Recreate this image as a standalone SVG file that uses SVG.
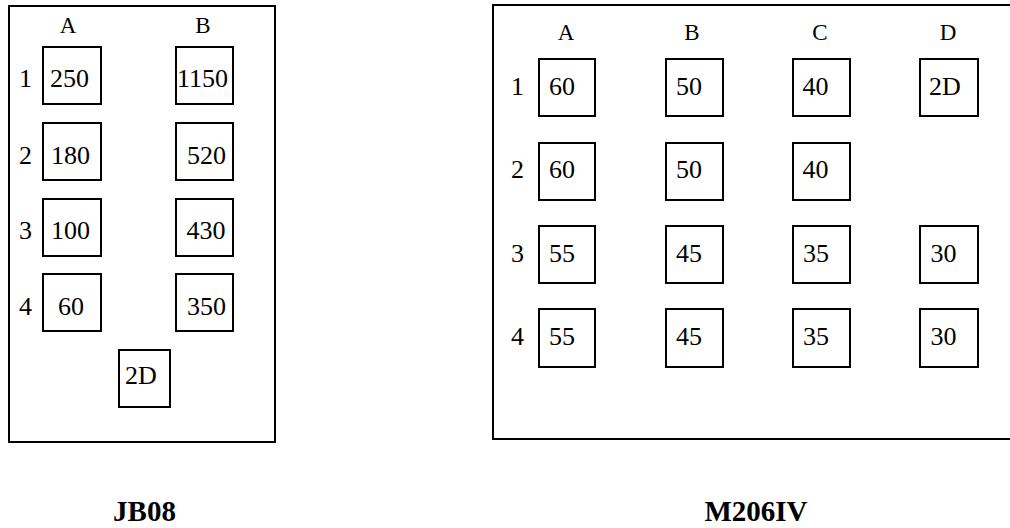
<svg xmlns="http://www.w3.org/2000/svg" width="1010" height="528" viewBox="0 0 1010 528">
<style>
.frame{fill:none;stroke:#000;stroke-width:2}
.box{fill:#fff;stroke:#000;stroke-width:2}
.t{font-family:"Liberation Serif","Times New Roman",serif;font-size:26px;fill:#000}
.h{font-family:"Liberation Serif","Times New Roman",serif;font-size:23px;fill:#000;text-anchor:middle}
.title{font-family:"Liberation Serif","Times New Roman",serif;font-size:29px;font-weight:bold;fill:#000;text-anchor:middle}
</style>
<rect width="1010" height="528" fill="#fff"/>
<g id="jb08">
<rect class="frame" x="9" y="6" width="266" height="436"/>
<text class="h" x="68" y="33">A</text>
<text class="h" x="203" y="33">B</text>
<text class="t" x="19" y="87">1</text>
<text class="t" x="19" y="164">2</text>
<text class="t" x="19" y="239">3</text>
<text class="t" x="19" y="315">4</text>
<g id="jb-a1"><rect class="box" x="43" y="47" width="58" height="57"/><text class="t" x="50" y="87">250</text></g>
<g id="jb-b1"><rect class="box" x="176" y="47" width="57" height="57"/><text class="t" x="177" y="87">1150</text></g>
<g id="jb-a2"><rect class="box" x="43" y="123" width="58" height="57"/><text class="t" x="51" y="164">180</text></g>
<g id="jb-b2"><rect class="box" x="176" y="123" width="57" height="57"/><text class="t" x="187" y="164">520</text></g>
<g id="jb-a3"><rect class="box" x="43" y="199" width="58" height="57"/><text class="t" x="51" y="239">100</text></g>
<g id="jb-b3"><rect class="box" x="176" y="199" width="57" height="57"/><text class="t" x="186.5" y="239">430</text></g>
<g id="jb-a4"><rect class="box" x="43" y="274" width="58" height="57"/><text class="t" x="58" y="315">60</text></g>
<g id="jb-b4"><rect class="box" x="176" y="274" width="57" height="57"/><text class="t" x="187" y="315">350</text></g>
<g id="jb-2d"><rect class="box" x="119" y="350" width="51" height="57"/><text class="t" x="125" y="384">2D</text></g>
<text class="title" x="144.5" y="520.5">JB08</text>
</g>
<g id="m206iv">
<rect class="frame" x="493" y="5" width="525" height="434"/>
<text class="h" x="566" y="40">A</text>
<text class="h" x="692" y="40">B</text>
<text class="h" x="820" y="40">C</text>
<text class="h" x="948" y="40">D</text>
<text class="t" x="511" y="95">1</text>
<text class="t" x="511" y="178">2</text>
<text class="t" x="511" y="262">3</text>
<text class="t" x="511" y="345">4</text>
<g id="m-a1"><rect class="box" x="539" y="59" width="56" height="57"/><text class="t" x="549" y="95">60</text></g>
<g id="m-b1"><rect class="box" x="666" y="59" width="57" height="57"/><text class="t" x="676" y="95">50</text></g>
<g id="m-c1"><rect class="box" x="793" y="59" width="57" height="57"/><text class="t" x="802.5" y="95">40</text></g>
<g id="m-d1"><rect class="box" x="920" y="59" width="58" height="57"/><text class="t" x="929" y="95">2D</text></g>
<g id="m-a2"><rect class="box" x="539" y="143" width="56" height="57"/><text class="t" x="549" y="178">60</text></g>
<g id="m-b2"><rect class="box" x="666" y="143" width="57" height="57"/><text class="t" x="676" y="178">50</text></g>
<g id="m-c2"><rect class="box" x="793" y="143" width="57" height="57"/><text class="t" x="802.5" y="178">40</text></g>
<g id="m-a3"><rect class="box" x="539" y="226" width="56" height="57"/><text class="t" x="549" y="262">55</text></g>
<g id="m-b3"><rect class="box" x="666" y="226" width="57" height="57"/><text class="t" x="676" y="262">45</text></g>
<g id="m-c3"><rect class="box" x="793" y="226" width="57" height="57"/><text class="t" x="803" y="262">35</text></g>
<g id="m-d3"><rect class="box" x="920" y="226" width="58" height="57"/><text class="t" x="930.5" y="262">30</text></g>
<g id="m-a4"><rect class="box" x="539" y="309" width="56" height="58"/><text class="t" x="549" y="345">55</text></g>
<g id="m-b4"><rect class="box" x="666" y="309" width="57" height="58"/><text class="t" x="676" y="345">45</text></g>
<g id="m-c4"><rect class="box" x="793" y="309" width="57" height="58"/><text class="t" x="803" y="345">35</text></g>
<g id="m-d4"><rect class="box" x="920" y="309" width="58" height="58"/><text class="t" x="930.5" y="345">30</text></g>
<text class="title" x="756" y="521">M206IV</text>
</g>
<g id="connectors"/>
</svg>
